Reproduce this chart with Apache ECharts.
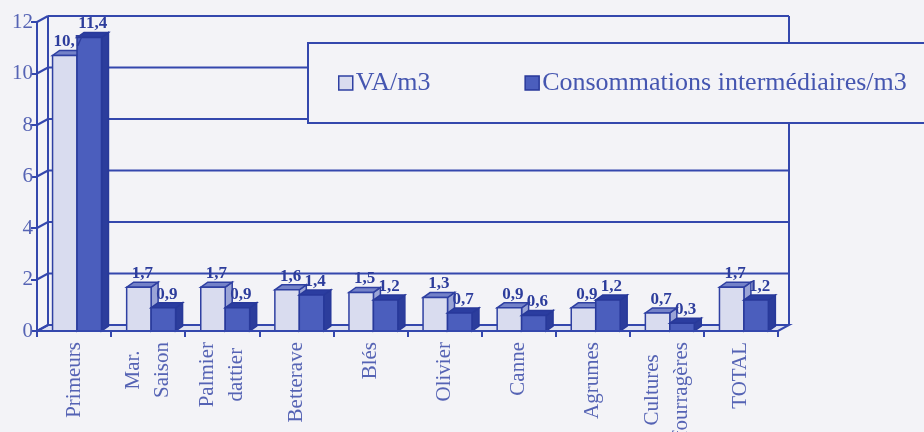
<!DOCTYPE html>
<html>
<head>
<meta charset="utf-8">
<script src="https://cdn.jsdelivr.net/npm/echarts@6/dist/echarts.min.js"></script>
<style>
  html, body { margin: 0; padding: 0; background: #f3f3f7; }
  #chart { width: 924px; height: 432px; }
</style>
</head>
<body>
<div id="chart"></div>
<script>
// Crop categories (x axis)
const categories = [
  'Primeurs', 'Mar.\nSaison', 'Palmier\ndattier', 'Betterave', 'Blés',
  'Olivier', 'Canne', 'Agrumes', 'Cultures\nfourragères', 'TOTAL'
];
// Value added per m3
const vaPerM3 = [10.7, 1.7, 1.7, 1.6, 1.5, 1.3, 0.9, 0.9, 0.7, 1.7];
// Intermediate consumption per m3
const ciPerM3 = [11.4, 0.9, 0.9, 1.4, 1.2, 0.7, 0.6, 1.2, 0.3, 1.2];
// Value axis ticks
const yTicks = [0, 2, 4, 6, 8, 10, 12];
const seriesNames = ['VA/m3', 'Consommations intermédiaires/m3'];

// ---- styling ----
const INK = '#3447ad';
const LABEL_INK = '#5563b4';
const SERIF = "'Liberation Serif', 'DejaVu Serif', serif";
const WALL = { dx: 11, dy: -6 };   // depth of walls/floor
const BAR = { dx: 7, dy: -5 };     // depth of each column
const barStyles = [
  { front: '#d9dcef', top: '#7482c8', side: '#9aa4d6', stroke: '#2f40a2', span: [-0.29, 0.04] },
  { front: '#4b5ebd', top: '#2b3da0', side: '#2c3d9c', stroke: '#28399a', span: [0.04, 0.37] }
];

const fmt = v => String(v).replace('.', ',');

// back wall, side wall diagonals and floor, positioned from the value axis
function scaffold(params, api) {
  const cs = params.coordSys;
  const v = api.value(1);
  const y = api.coord([0, v])[1];
  const y0 = api.coord([0, yTicks[0]])[1];
  const yMax = api.coord([0, yTicks[yTicks.length - 1]])[1];
  const left = cs.x, right = cs.x + cs.width;
  const line = { stroke: INK, lineWidth: 2, fill: null };
  const kids = [];
  if (v === yTicks[0]) {
    kids.push({
      type: 'polygon',
      shape: { points: [[left, y0], [right, y0], [right + WALL.dx, y0 + WALL.dy], [left + WALL.dx, y0 + WALL.dy]] },
      style: { fill: '#dfe2f1', stroke: INK, lineWidth: 2 }
    });
  } else {
    kids.push({ type: 'line', shape: { x1: left + WALL.dx, y1: y + WALL.dy, x2: right + WALL.dx, y2: y + WALL.dy }, style: line });
  }
  if (v === yTicks[yTicks.length - 1]) {
    kids.push({ type: 'line', shape: { x1: left + WALL.dx, y1: yMax + WALL.dy, x2: left + WALL.dx, y2: y0 + WALL.dy }, style: line });
    kids.push({ type: 'line', shape: { x1: right + WALL.dx, y1: yMax + WALL.dy, x2: right + WALL.dx, y2: y0 + WALL.dy }, style: line });
  }
  kids.push({ type: 'line', shape: { x1: left, y1: y, x2: left + WALL.dx, y2: y + WALL.dy }, style: line });
  return { type: 'group', children: kids };
}

// 3D-looking column: right side, top face, front face, value label
function columns(k) {
  const s = barStyles[k];
  return function (params, api) {
    const i = api.value(0), v = api.value(1);
    const base = api.coord([i, 0]);
    const top = api.coord([i, v]);
    const band = api.size([1, 0])[0];
    const x0 = base[0] + band * s.span[0];
    const x1 = base[0] + band * s.span[1];
    const yb = base[1], yt = top[1];
    const st = { stroke: s.stroke, lineWidth: 1.5 };
    return {
      type: 'group',
      children: [
        { type: 'polygon', shape: { points: [[x1, yt], [x1 + BAR.dx, yt + BAR.dy], [x1 + BAR.dx, yb + BAR.dy], [x1, yb]] },
          style: Object.assign({ fill: s.side }, st) },
        { type: 'polygon', shape: { points: [[x0, yt], [x1, yt], [x1 + BAR.dx, yt + BAR.dy], [x0 + BAR.dx, yt + BAR.dy]] },
          style: Object.assign({ fill: s.top }, st) },
        { type: 'rect', shape: { x: x0, y: yt, width: x1 - x0, height: yb - yt },
          style: Object.assign({ fill: s.front }, st) },
        { type: 'text', z2: 10,
          style: {
            text: fmt(v), x: (x0 + x1) / 2 + BAR.dx / 2, y: yt + BAR.dy,
            align: 'center', verticalAlign: 'bottom',
            font: 'bold 17px ' + SERIF, fill: '#2d3d9c'
          } }
      ]
    };
  };
}

const chart = echarts.init(document.getElementById('chart'), null, { renderer: 'canvas' });

chart.setOption({
  animation: false,
  backgroundColor: '#f3f3f7',
  textStyle: { fontFamily: SERIF },
  grid: { left: 37, right: 146, top: 22, bottom: 101, containLabel: false, outerBoundsMode: 'none' },
  legend: {
    orient: 'horizontal',
    left: 308, top: 43,
    width: 720,
    padding: [27, 60, 27, 30],
    backgroundColor: '#f3f3f7',
    borderColor: INK, borderWidth: 2, borderRadius: 0,
    itemWidth: 14, itemHeight: 14, itemGap: 94,
    icon: 'rect',
    selectedMode: false,
    textStyle: { fontFamily: SERIF, fontSize: 26, color: '#4556b0', padding: [0, 0, 0, -2] },
    data: [
      { name: seriesNames[0], itemStyle: { color: barStyles[0].front, borderColor: barStyles[0].stroke, borderWidth: 1.5 } },
      { name: seriesNames[1], itemStyle: { color: barStyles[1].front, borderColor: barStyles[1].stroke, borderWidth: 1.5 } }
    ]
  },
  xAxis: {
    type: 'category',
    data: categories,
    boundaryGap: true,
    z: 3,
    axisLine: { show: true, lineStyle: { color: INK, width: 2 } },
    axisTick: { show: true, length: 6, interval: 0, lineStyle: { color: INK, width: 2 } },
    axisLabel: {
      interval: 0, rotate: 90, margin: 11,
      formatter: v => v.split('\n').map(s => '{c|' + s + '}').join('\n'),
      rich: { c: { align: 'center', fontFamily: SERIF, fontSize: 21, lineHeight: 29, color: LABEL_INK } }
    },
    splitLine: { show: false }
  },
  yAxis: {
    type: 'value',
    min: yTicks[0], max: yTicks[yTicks.length - 1], interval: 2,
    axisLine: { show: true, lineStyle: { color: INK, width: 2 } },
    axisTick: { show: true, length: 6, lineStyle: { color: INK, width: 2 } },
    axisLabel: { fontFamily: SERIF, fontSize: 21, color: LABEL_INK, margin: 4 },
    splitLine: { show: false }
  },
  series: [
    {
      type: 'custom', name: '_walls', z: 1, clip: false, silent: true,
      encode: { x: 0, y: 1 },
      data: yTicks.map(v => [0, v]),
      renderItem: scaffold
    },
    {
      type: 'custom', name: seriesNames[0], z: 2, clip: false,
      itemStyle: { color: barStyles[0].front },
      encode: { x: 0, y: 1 },
      data: vaPerM3.map((v, i) => [i, v]),
      renderItem: columns(0)
    },
    {
      type: 'custom', name: seriesNames[1], z: 2, clip: false,
      itemStyle: { color: barStyles[1].front },
      encode: { x: 0, y: 1 },
      data: ciPerM3.map((v, i) => [i, v]),
      renderItem: columns(1)
    }
  ]
});
</script>
</body>
</html>
